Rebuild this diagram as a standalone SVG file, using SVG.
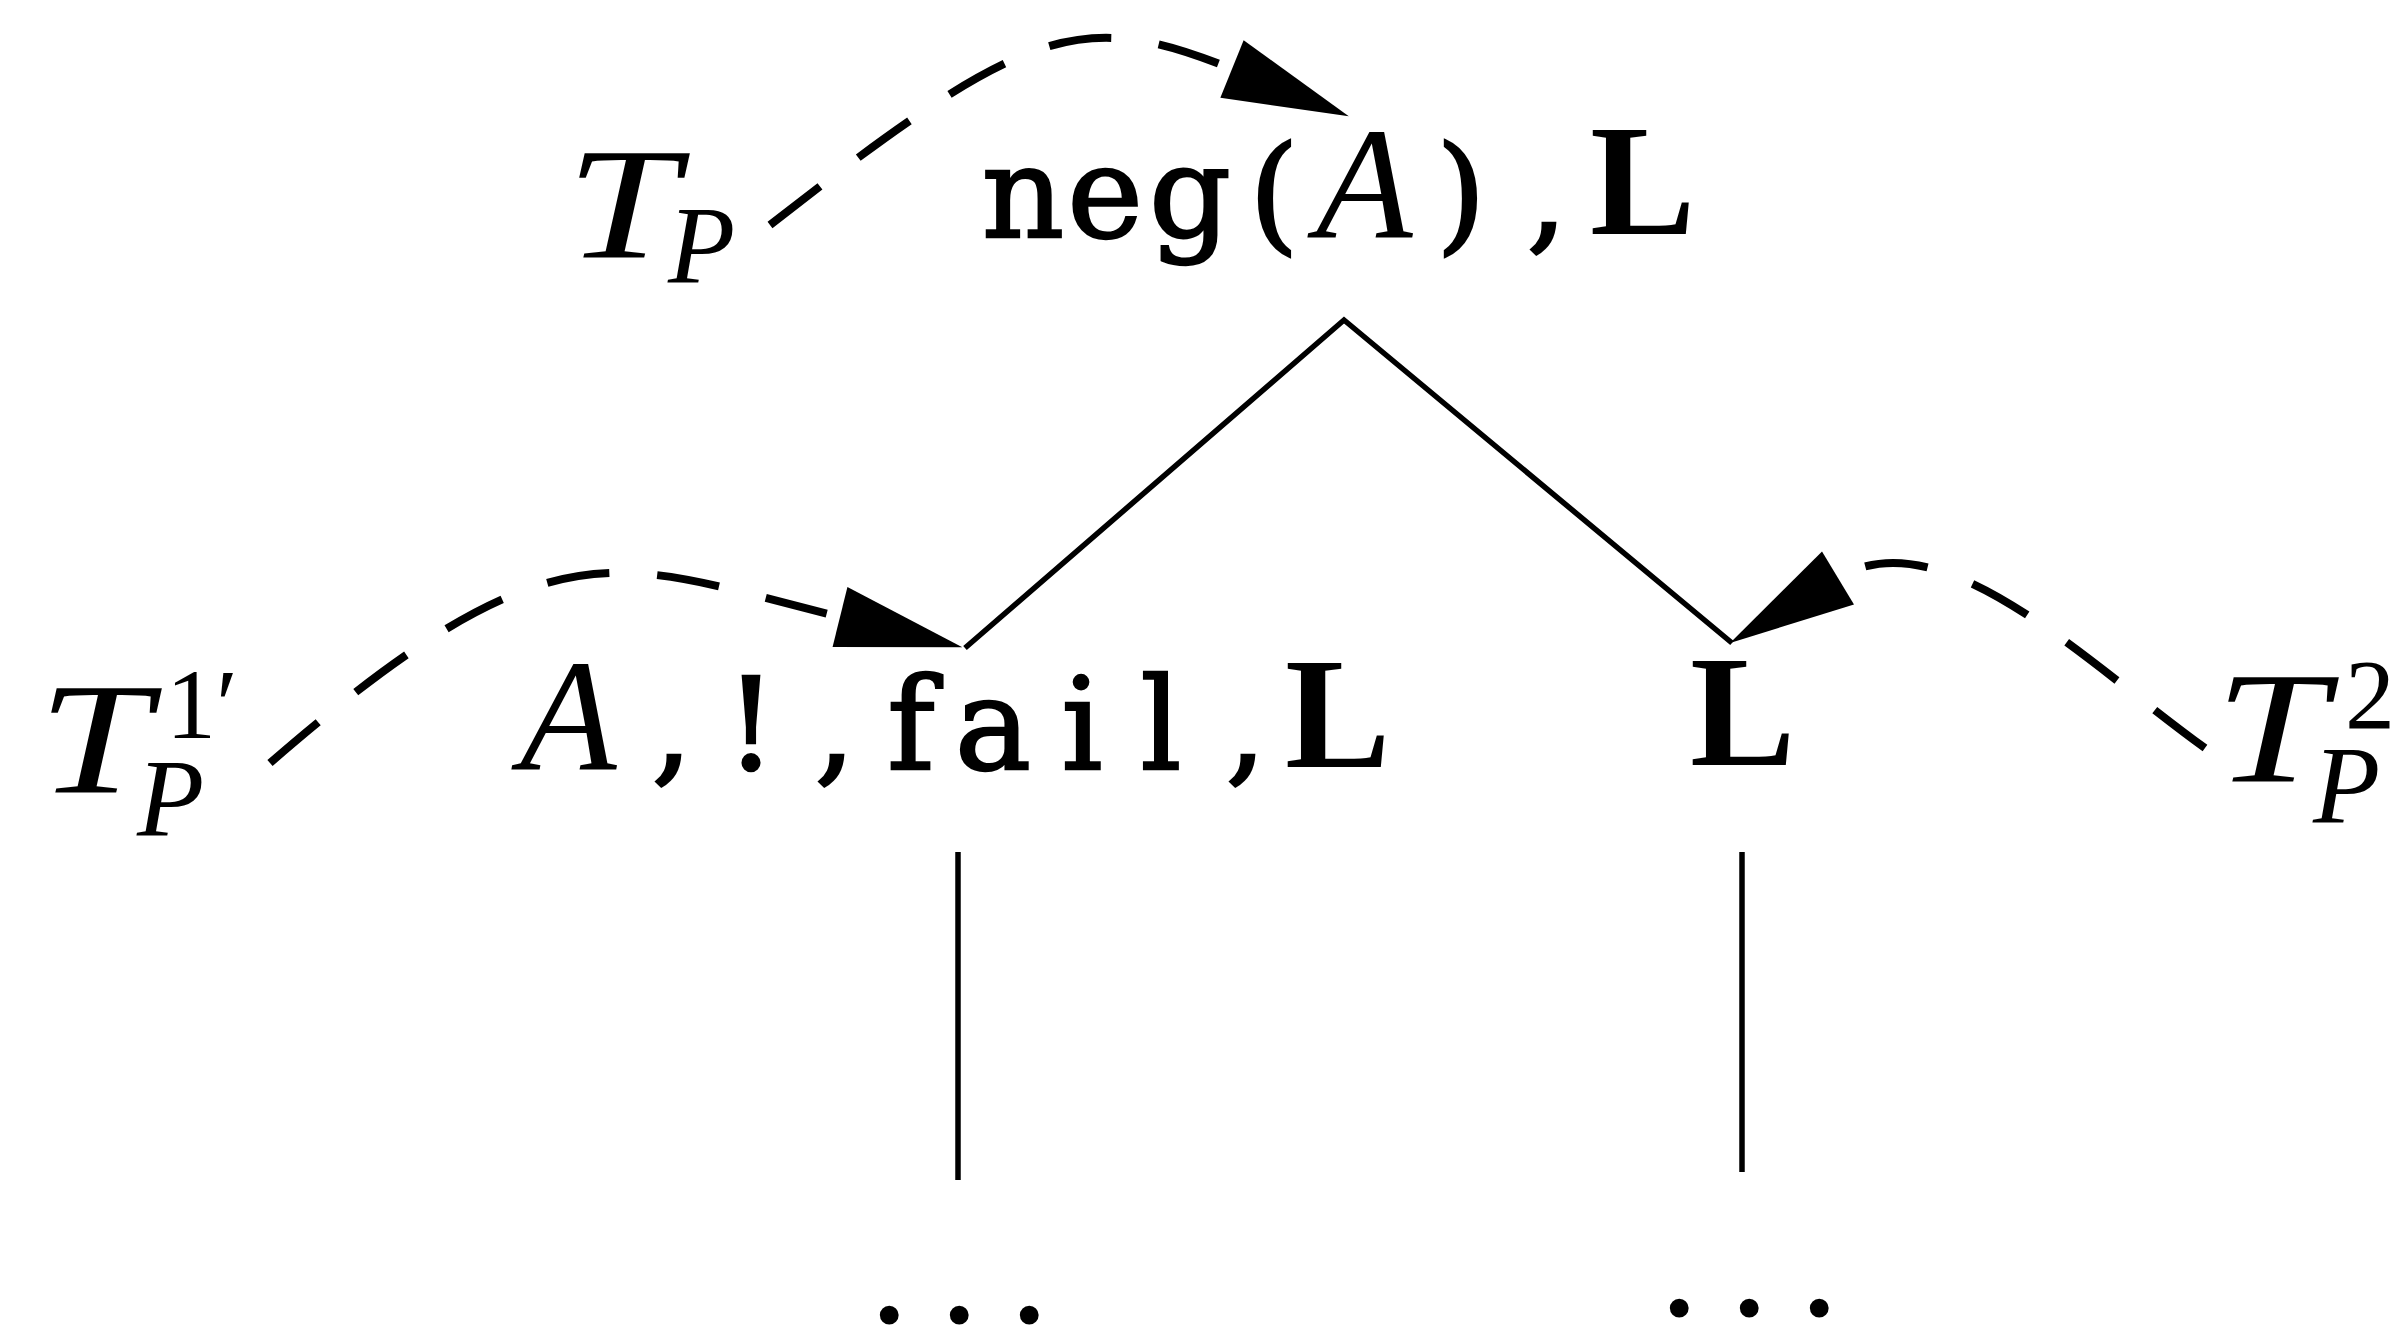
<svg xmlns="http://www.w3.org/2000/svg" width="2401" height="1331" viewBox="0 0 2401 1331">
<style>
.tt{font-family:"DejaVu Serif","Liberation Serif",serif;font-size:128px;fill:#000;stroke:#000;stroke-width:2.5px;text-anchor:middle}
.it{font-family:"Liberation Serif","Times New Roman",serif;font-style:italic;fill:#000}
.rm{font-family:"Liberation Serif","Times New Roman",serif;font-style:normal;fill:#000}
.bf{font-family:"Liberation Serif","Times New Roman",serif;font-weight:bold;font-size:158px;fill:#000}
.dots{font-family:"Liberation Serif","Times New Roman",serif;font-size:58px;fill:#000;stroke:#000;stroke-width:12px;stroke-linejoin:round;letter-spacing:55.5px}
.dash{fill:none;stroke:#000;stroke-width:8;stroke-dasharray:63 48}
.solid{fill:none;stroke:#000;stroke-width:5.5;stroke-linejoin:miter}
</style>
<defs>
<marker id="ah" markerUnits="userSpaceOnUse" markerWidth="130" markerHeight="66" viewBox="0 -33 130 66" refX="0" refY="0" orient="auto" overflow="visible">
<path d="M0,-31 L126,0 L0,31 Z" fill="#000"/>
</marker>
</defs>
<rect width="2401" height="1331" fill="#fff"/>
<g id="connectors">
<polyline class="solid" points="965,648 1344,320 1732,643"/>
<path class="solid" d="M958,852 V1180"/>
<path class="solid" d="M1742,852 V1172"/>
<path class="dash" d="M770,225 C1024,27 1079,7 1232,69" marker-end="url(#ah)"/>
<path class="dash" d="M270,763 C557,514 617,562 840,617" marker-end="url(#ah)"/>
<path class="dash" d="M2205,748 C2083,660 1941,516 1838,578" marker-end="url(#ah)"/>
</g>
<g id="node-root">
<text class="tt" x="1023 1105 1190 1274" y="237">neg(</text>
<text class="it" x="1316" y="237" font-size="158">A</text>
<text class="tt" x="1461 1547" y="237">),</text>
<text class="bf" x="1590" y="234">L</text>
</g>
<g id="label-TP">
<text class="it"><tspan x="566" y="258" font-size="158" textLength="112" lengthAdjust="spacingAndGlyphs">T</tspan><tspan x="668" y="282" font-size="110">P</tspan></text>
</g>
<g id="node-left">
<text class="it" x="520" y="769" font-size="158">A</text>
<text class="tt" x="672 751 835 911 993 1082 1161 1246" y="769">,!,fail,</text>
<text class="bf" x="1285" y="767">L</text>
</g>
<g id="label-TP1">
<text class="it"><tspan x="38" y="793" font-size="158" textLength="112" lengthAdjust="spacingAndGlyphs">T</tspan><tspan class="rm" x="166" y="738" font-size="100">1′</tspan><tspan x="137" y="835" font-size="110">P</tspan></text>
</g>
<g id="node-right">
<text class="bf" x="1690" y="765">L</text>
</g>
<g id="label-TP2">
<text class="it"><tspan x="2215" y="782" font-size="158" textLength="112" lengthAdjust="spacingAndGlyphs">T</tspan><tspan class="rm" x="2345" y="728" font-size="100">2</tspan><tspan x="2313" y="822" font-size="110">P</tspan></text>
</g>
<g id="dots-left">
<text class="dots" x="882" y="1318">...</text>
</g>
<g id="dots-right">
<text class="dots" x="1672" y="1311">...</text>
</g>
</svg>
